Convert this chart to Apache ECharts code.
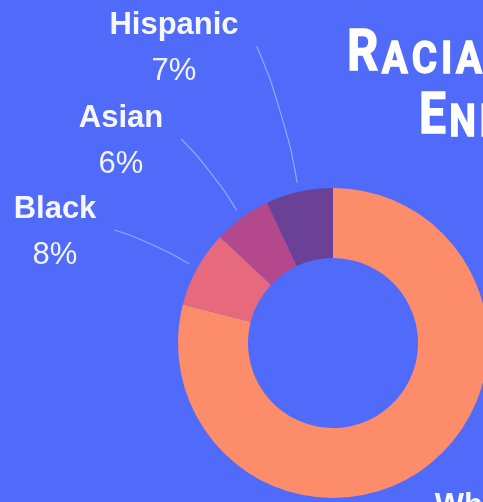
<!DOCTYPE html>
<html>
<head>
<meta charset="utf-8">
<title>Racial Enrollment</title>
<script src="https://cdn.jsdelivr.net/npm/echarts@6/dist/echarts.min.js"></script>
<style>
  html, body { margin: 0; padding: 0; background: #506bfa; overflow: hidden; }
  #chart { width: 483px; height: 502px; }
</style>
</head>
<body>
<div id="chart"></div>
<script>
// Enrollment share by group (percent)
const groups = ['White', 'Black', 'Asian', 'Hispanic'];
const shares = [79, 8, 6, 7];

// Title words, drawn in small caps
const titleWords = ['Racial', 'Enrollment'];

const chart = echarts.init(document.getElementById('chart'), null, { renderer: 'canvas' });

// Where each two-line label block is centred
const labelCentres = [
  [477, 529],   // White
  [55, 232],    // Black
  [121, 141],   // Asian
  [174, 48]     // Hispanic
];

// Each letter becomes its own token so the caps can be spaced out a little
function smallCaps(word) {
  const up = word.toUpperCase();
  let out = '{big|' + up.charAt(0) + '}';
  for (const ch of up.slice(1)) out += '{small|' + ch + '}';
  return out;
}

const titleRich = {
  big:   { fontFamily: 'Roboto', fontWeight: 'bold', fontSize: 57, lineHeight: 57, verticalAlign: 'bottom',
           fill: '#ffffff', stroke: '#ffffff', lineWidth: 1.4, padding: [0, 4, 0, 0] },
  small: { fontFamily: 'Roboto', fontWeight: 'bold', fontSize: 45, lineHeight: 57, verticalAlign: 'bottom',
           fill: '#ffffff', stroke: '#ffffff', lineWidth: 1.4, padding: [0, 4.5, 0, 0] }
};

const option = {
  backgroundColor: '#506bfa',
  animation: false,
  color: ['#fd8c6a', '#e6697c', '#b3488c', '#6a4196'],
  graphic: [
    {
      type: 'text', x: 347, y: 84, scaleX: 0.86, silent: true,
      style: { text: smallCaps(titleWords[0]), rich: titleRich, verticalAlign: 'bottom', fill: '#ffffff' }
    },
    {
      type: 'text', x: 419, y: 147, scaleX: 0.84, silent: true,
      style: { text: smallCaps(titleWords[1]), rich: titleRich, verticalAlign: 'bottom', fill: '#ffffff' }
    }
  ],
  series: [{
    type: 'pie',
    center: [333, 343],
    radius: [85, 155],
    startAngle: 90,
    clockwise: true,
    avoidLabelOverlap: false,
    silent: true,
    itemStyle: { borderWidth: 0 },
    data: groups.map((g, i) => ({
      name: g,
      value: shares[i],
      labelLine: { show: g !== 'White' }
    })),
    label: {
      show: true,
      position: 'outside',
      formatter: '{n|{b}}\n{v|{d}%}',
      rich: {
        n: { fontFamily: 'Liberation Sans', fontWeight: 'bold', fontSize: 31, lineHeight: 46, color: '#f6f7fd', align: 'center' },
        v: { fontFamily: 'Liberation Sans', fontWeight: 'normal', fontSize: 31, lineHeight: 46, color: '#f2f3fc', align: 'center' }
      }
    },
    labelLine: {
      show: true,
      smooth: 0.5,
      length: 12,
      length2: 12,
      lineStyle: { color: 'rgba(220,226,255,0.5)', width: 1.2 }
    },
    labelLayout: function (p) {
      const c = labelCentres[p.dataIndex];
      const out = { x: c[0], y: c[1], align: 'center', verticalAlign: 'middle' };
      const pts = p.labelLinePoints;
      if (pts && pts.length >= 2) {
        // start a little way out from the ring, along the slice's own guide direction
        const ax = pts[1][0] - pts[0][0], ay = pts[1][1] - pts[0][1];
        const al = Math.hypot(ax, ay) || 1;
        const s = [pts[0][0] + ax / al * 9, pts[0][1] + ay / al * 9];
        // finish just right of the label block, at its middle
        const e = [c[0] + p.labelRect.width / 2 + 18, c[1] - 2];
        // bow the guide gently outward
        const dx = s[0] - e[0], dy = s[1] - e[1];
        const len = Math.hypot(dx, dy) || 1;
        const bow = len * 0.055;
        const m = [(s[0] + e[0]) / 2 + dy / len * bow, (s[1] + e[1]) / 2 - dx / len * bow];
        out.labelLinePoints = [s, m, e];
      }
      return out;
    }
  }]
};

chart.setOption(option);
</script>
</body>
</html>
